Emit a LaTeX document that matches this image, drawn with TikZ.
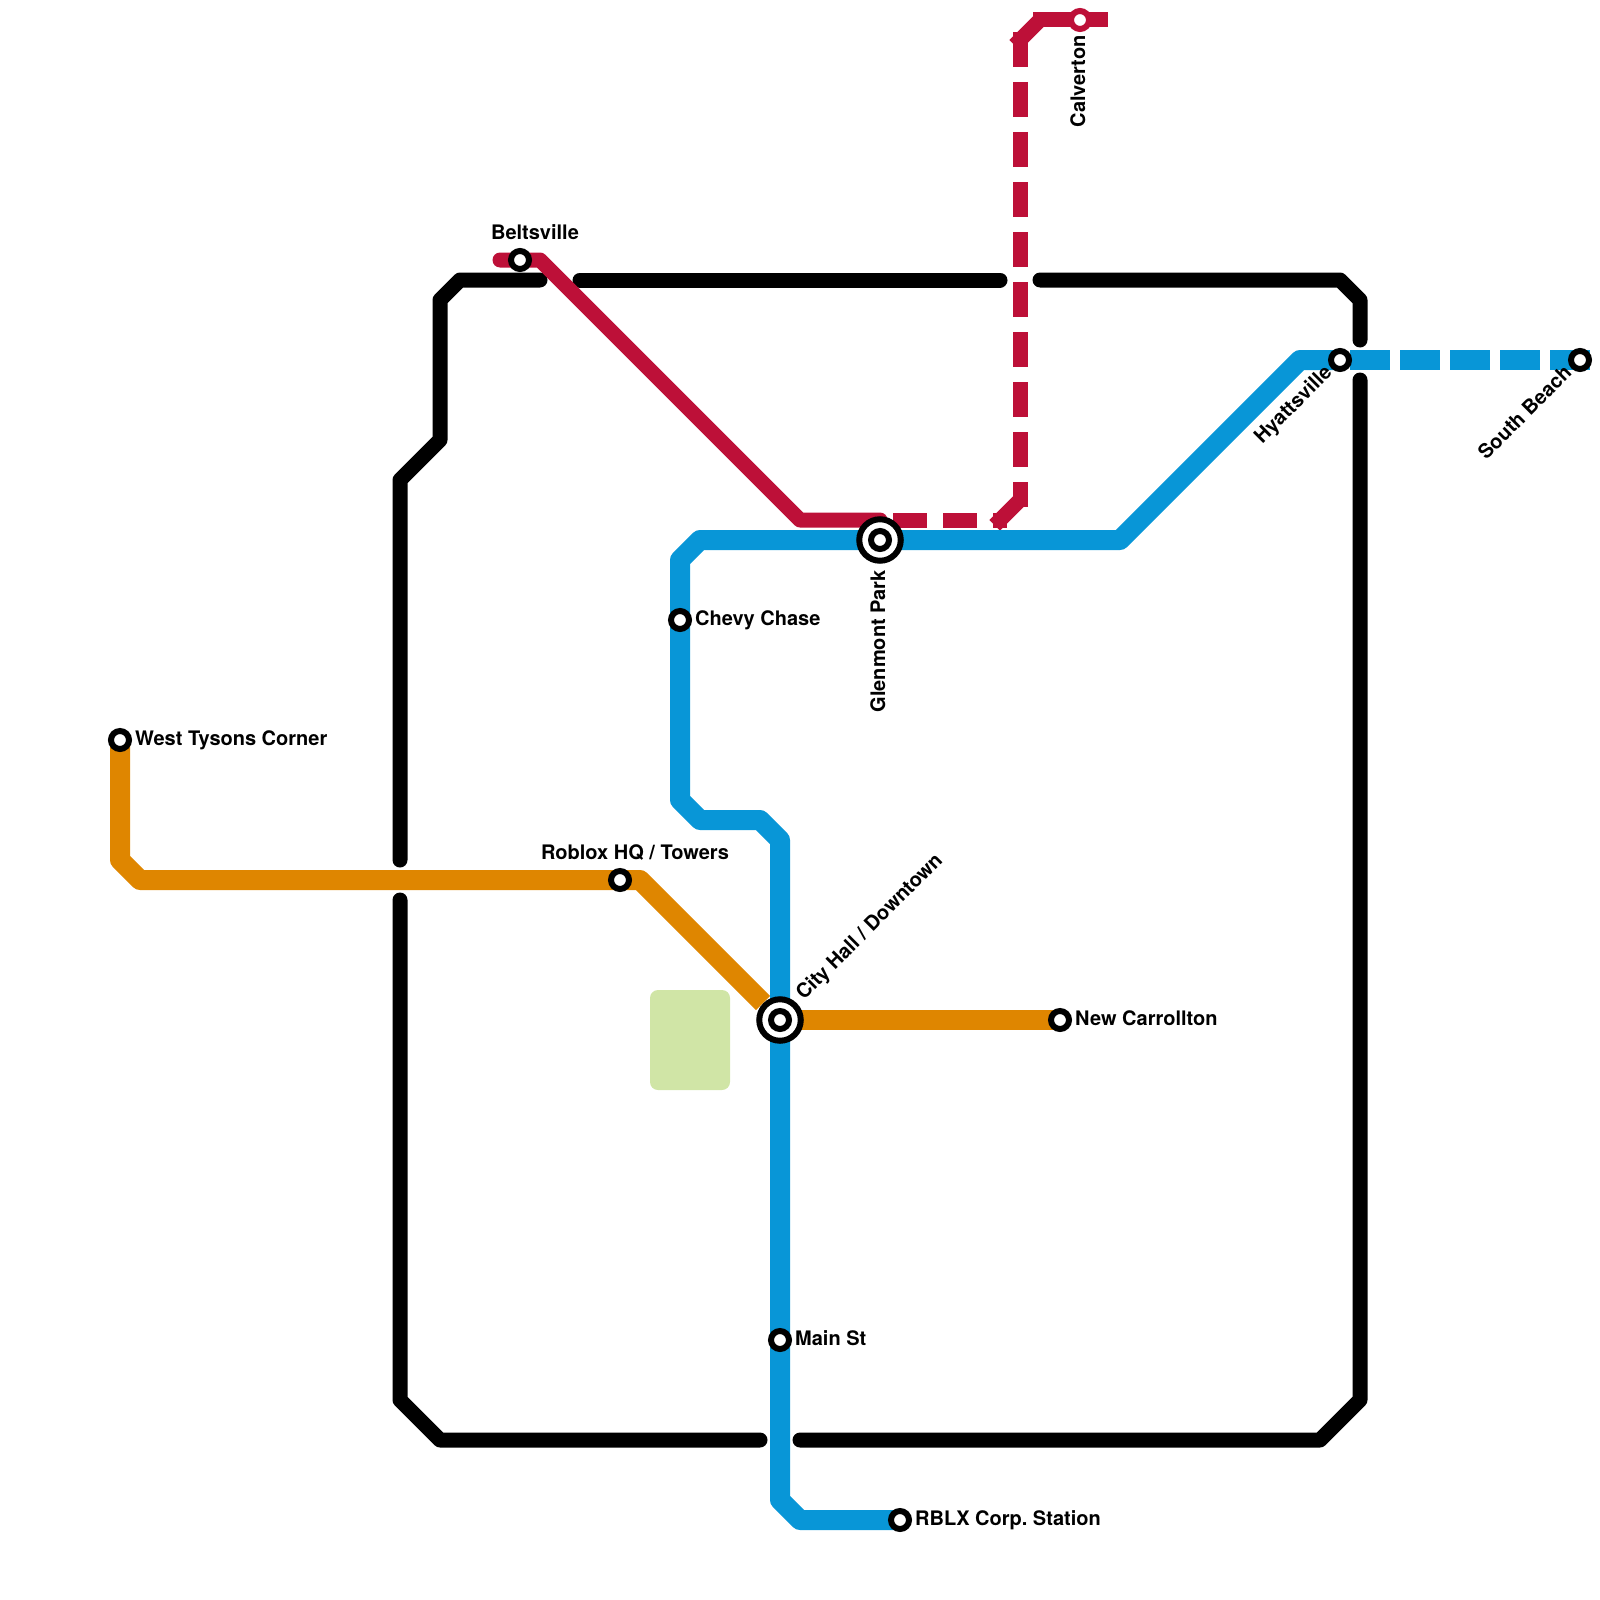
\documentclass[tikz,border=0pt]{standalone}
\usepackage{fontspec}
\setmainfont{TeX Gyre Heros}
\frenchspacing
\definecolor{lred}{HTML}{BD1038}
\definecolor{lblue}{HTML}{0896D7}
\definecolor{lorange}{HTML}{DF8600}
\definecolor{parkgreen}{HTML}{D0E5A6}
\pgfdeclarelayer{bg}
\pgfsetlayers{bg,main}
\tikzset{
  x=1pt,y=-1pt,
  blackline/.style={draw=black,line width=15pt,line cap=round,line join=round},
  redline/.style={draw=lred,line width=15pt,line cap=round,line join=round},
  reddash/.style={draw=lred,line width=15pt,line cap=butt},
  reddiag/.style={draw=lred,line width=15pt,line cap=rect},
  blueline/.style={draw=lblue,line width=20pt,line cap=butt,line join=round},
  bluedash/.style={draw=lblue,line width=20pt,line cap=butt},
  orangeline/.style={draw=lorange,line width=20pt,line cap=butt,line join=round},
  stationmark/.style={circle,draw=black,fill=white,line width=6pt,minimum size=18pt,inner sep=0pt},
  redstation/.style={circle,draw=lred,fill=white,line width=6pt,minimum size=18pt,inner sep=0pt},
  bigring/.style={circle,draw=black,fill=white,line width=6pt,minimum size=41.5pt,inner sep=0pt},
  lab/.style={font=\fontsize{20pt}{22pt}\selectfont\bfseries,inner sep=0pt,text=black},
}
\begin{document}
\begin{tikzpicture}
\useasboundingbox (0,0) rectangle (1600,1600);
% stations
\node[stationmark] (tysons) at (120,740) {};
\node[stationmark] (roblox) at (620,880) {};
\node[stationmark] (belts) at (520,260) {};
\node[redstation] (calverton) at (1080,20) {};
\node[stationmark] (chevy) at (680,620) {};
\node[stationmark] (mainst) at (780,1340) {};
\node[stationmark] (rblx) at (900,1520) {};
\node[stationmark] (carrollton) at (1060,1020) {};
\node[stationmark] (hyatts) at (1340,360) {};
\node[stationmark] (southbeach) at (1580,360) {};
\node[bigring] (glenmontouter) at (880,540) {};
\node[stationmark] (glenmont) at (880,540) {};
\node[bigring] (cityouter) at (780,1020) {};
\node[stationmark] (city) at (780,1020) {};
% free line ends
\coordinate (redstart) at (500,260);
\coordinate (redglen) at (880,520);
\coordinate (blueend) at (1590,360);
\coordinate (orangestop) at (763,1003);
\begin{pgfonlayer}{bg}
  \fill[parkgreen,rounded corners=8pt] (650,990) rectangle (730,1090);
  % black line
  \draw[blackline] (400,860) -- (400,480) -- (440,440) -- (440,300) -- (460,280) -- (540,280);
  \draw[blackline] (580,280) -- (1000,280);
  \draw[blackline] (1040,280) -- (1340,280) -- (1360,300) -- (1360,340);
  \draw[blackline] (1360,380) -- (1360,1400) -- (1320,1440) -- (800,1440);
  \draw[blackline] (760,1440) -- (440,1440) -- (400,1400) -- (400,900);
  % orange line
  \draw[orangeline] (tysons.center) -- (120,860) -- (140,880) -- (roblox.center) -- (640,880) -- (orangestop);
  \draw[orangeline] (city.center) -- (carrollton.center);
  % red line
  \draw[redline] (redstart) -- (540,260) -- (800,520) -- (redglen);
  \draw[reddash] (893,520) -- (927,520);
  \draw[reddash] (943,520) -- (977,520);
  \draw[reddash] (993,520) -- (1007,520);
  \draw[reddiag] (1000,520) -- (1017,503);
  \foreach \yy in {32,82,...,432} {\draw[reddash] (1020,\yy) -- (1020,\yy+35);}
  \draw[reddash] (1020,482) -- (1020,507);
  \draw[reddiag] (1020,40) -- (1037,23);
  \draw[reddash] (1033,20) -- (calverton.center);
  \draw[reddash] (calverton.center) -- (1107.5,20);
  % blue line
  \draw[blueline] (rblx.center) -- (800,1520) -- (780,1500) -- (mainst.center) -- (city.center) -- (780,840) -- (760,820) -- (700,820) -- (680,800) -- (chevy.center) -- (680,560) -- (700,540) -- (glenmont.center) -- (1120,540) -- (1300,360) -- (hyatts.center);
  \foreach \xx in {1350,1400,1450,1500} {\draw[bluedash] (\xx,360) -- (\xx+40,360);}
  \draw[bluedash] (1550,360) -- (blueend);
\end{pgfonlayer}
% labels
\node[lab,anchor=base west] (ltysons) at (135,745) {West Tysons Corner};
\node[lab,anchor=base west] (lchevy) at (695,625) {Chevy Chase};
\node[lab,anchor=base west] (lmain) at (795,1345) {Main St};
\node[lab,anchor=base west] (lrblx) at (915,1525) {RBLX Corp. Station};
\node[lab,anchor=base west] (lcarr) at (1075,1025) {New Carrollton};
\node[lab,anchor=base] (lroblox) at (635,859.5) {Roblox HQ / Towers};
\node[lab,anchor=base] (lbelts) at (535,239.5) {Beltsville};
\node[lab,anchor=base east,rotate=90] (lcalv) at (1085,35) {Calverton};
\node[lab,anchor=base east,rotate=90] (lglen) at (885,570) {Glenmont Park};
\node[lab,anchor=base east,rotate=45] (lhyatts) at (1333,374) {Hyattsville};
\node[lab,anchor=base east,rotate=45] (lsouth) at (1573,374) {South Beach};
\node[lab,anchor=base west,rotate=45] (lcity) at (804,1001) {City Hall / Downtown};
\end{tikzpicture}
\end{document}
